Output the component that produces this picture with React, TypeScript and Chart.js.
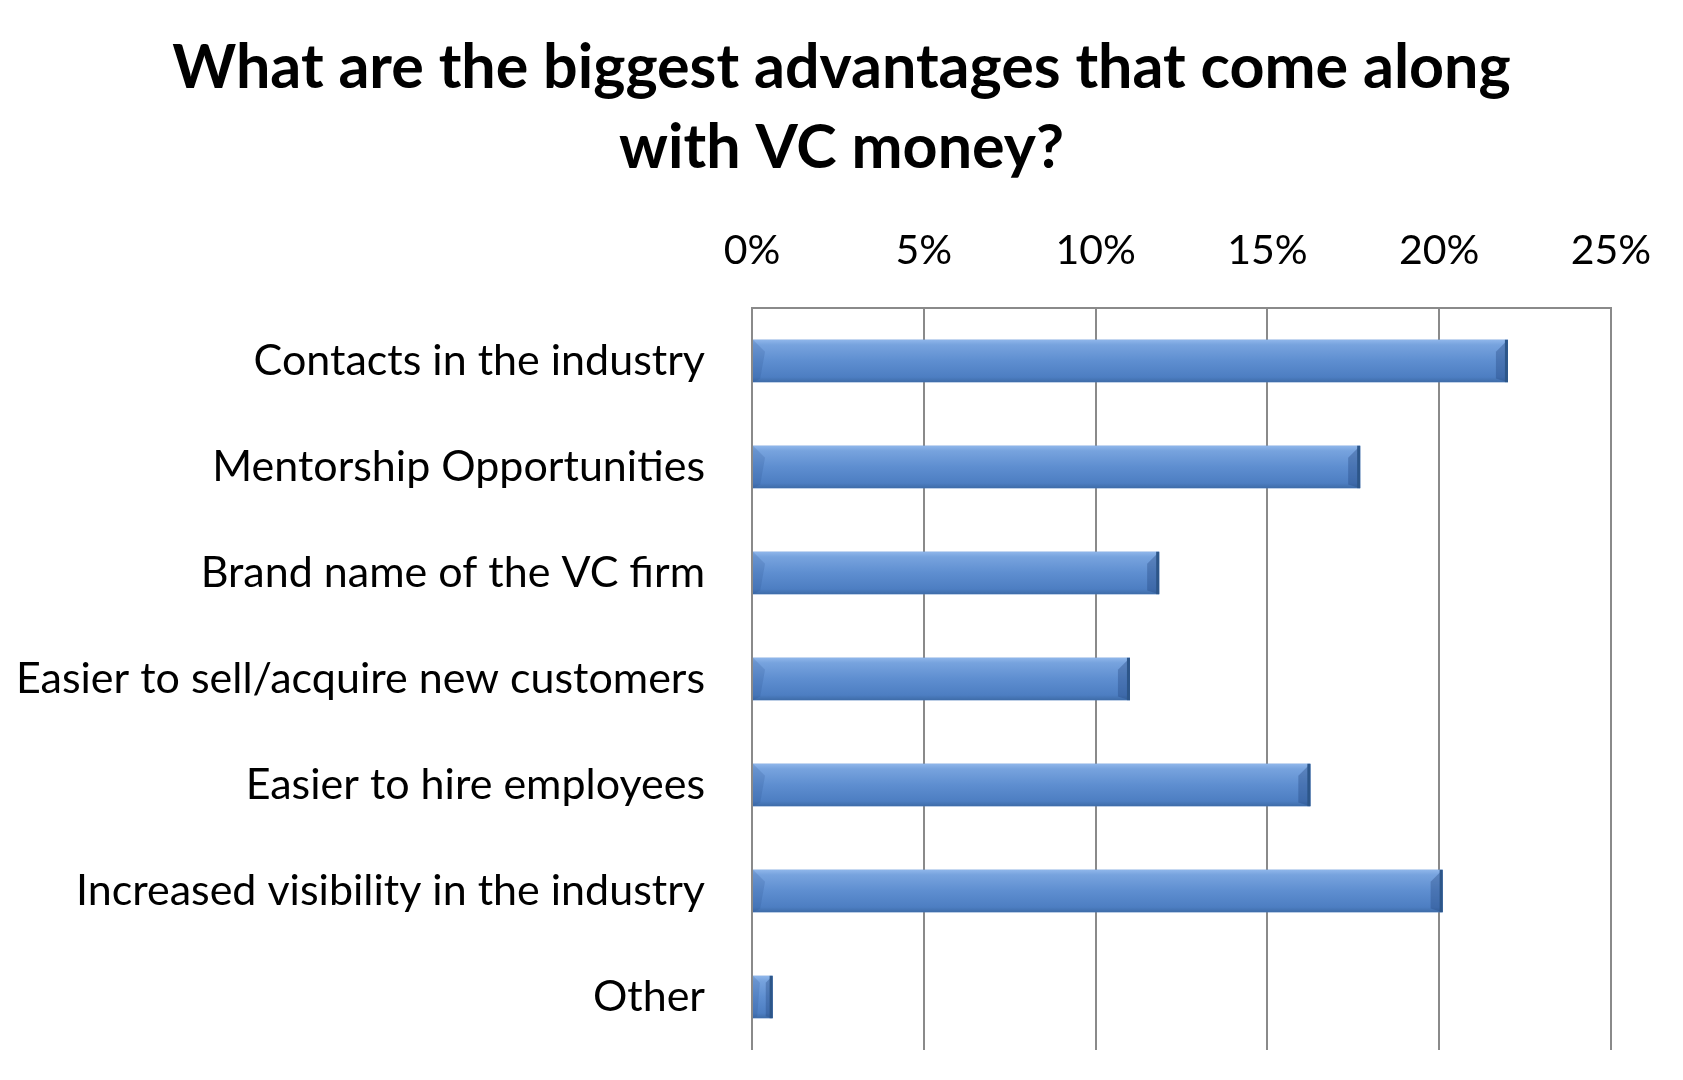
import React, { useEffect, useRef } from "react";
import { Chart, registerables } from "chart.js";

Chart.register(...registerables);

const titleLines = ["What are the biggest advantages that come along", "with VC money?"];
const categories = [
  "Contacts in the industry",
  "Mentorship Opportunities",
  "Brand name of the VC firm",
  "Easier to sell/acquire new customers",
  "Easier to hire employees",
  "Increased visibility in the industry",
  "Other",
];
const values = [22.0, 17.7, 11.85, 11.0, 16.25, 20.1, 0.6];
const xTickMin = 0;
const xTickMax = 25;
const xTickStep = 5;

const bevelPlugin = {
  id: "bevelBars",
  afterDatasetsDraw(chart: any) {
    const ctx = chart.ctx;
    const meta = chart.getDatasetMeta(0);
    meta.data.forEach((bar: any) => {
      const { x, y, base, height } = bar.getProps(["x", "y", "base", "height"], true);
      const left = Math.min(base, x);
      const right = Math.max(base, x);
      const top = y - height / 2;
      const bottom = y + height / 2;
      const w = right - left;
      ctx.save();
      const g = ctx.createLinearGradient(0, top, 0, bottom);
      g.addColorStop(0, "#8fb6ea");
      g.addColorStop(0.12, "#77a3de");
      g.addColorStop(0.5, "#5e8ed0");
      g.addColorStop(0.88, "#4d7ec2");
      g.addColorStop(1, "#3e6ca8");
      ctx.fillStyle = g;
      ctx.fillRect(left, top, w, height);
      const b = Math.min(12, w * 0.35);
      ctx.fillStyle = "rgba(35,70,125,0.35)";
      ctx.beginPath();
      ctx.moveTo(right - b, top + b);
      ctx.lineTo(right, top);
      ctx.lineTo(right, bottom);
      ctx.lineTo(right - b, bottom - b * 0.3);
      ctx.closePath();
      ctx.fill();
      ctx.fillStyle = "#2d5689";
      ctx.fillRect(right - 3, top, 3, height);
      ctx.fillStyle = "rgba(40,80,140,0.18)";
      ctx.beginPath();
      ctx.moveTo(left, top);
      ctx.lineTo(left + b, top + b);
      ctx.lineTo(left + b * 0.6, bottom - b * 0.3);
      ctx.lineTo(left, bottom);
      ctx.closePath();
      ctx.fill();
      ctx.restore();
    });
  },
};

export default function App() {
  const ref = useRef<HTMLCanvasElement | null>(null);
  useEffect(() => {
    document.body.style.margin = "0";
    const canvas = ref.current;
    if (!canvas) return;
    const chart = new Chart(canvas, {
      type: "bar",
      data: {
        labels: categories,
        datasets: [
          {
            data: values,
            backgroundColor: "#5b8ccf",
            borderWidth: 0,
            categoryPercentage: 1,
            barPercentage: 0.4,
          },
        ],
      },
      options: {
        indexAxis: "y",
        responsive: false,
        animation: false,
        layout: { padding: { left: 0, right: 0, top: 0, bottom: 30 } },
        plugins: {
          legend: { display: false },
          tooltip: { enabled: false },
          title: {
            display: true,
            text: titleLines,
            color: "#000",
            font: { family: "Lato", size: 61, weight: "bold", lineHeight: 1.311 },
            padding: { top: 28, bottom: 0 },
          },
        },
        scales: {
          x: {
            position: "top",
            min: xTickMin,
            max: xTickMax,
            ticks: {
              stepSize: xTickStep,
              color: "#000",
              font: { family: "Lato", size: 41 },
              padding: 33,
              callback: (v: any) => v + "%",
            },
            grid: { color: "#8a8a8a", lineWidth: 2, drawTicks: false },
            border: { display: true, color: "#8a8a8a", width: 2 },
            afterFit: (scale: any) => {
              scale.height = 120;
              scale.paddingLeft = 0;
              scale.paddingRight = 72;
            },
          },
          y: {
            ticks: {
              color: "#000",
              font: { family: "Lato", size: 43 },
              padding: 47,
            },
            grid: { display: false, drawTicks: false },
            border: { display: false },
            afterFit: (scale: any) => {
              scale.width = 752;
              scale.paddingTop = 0;
              scale.paddingBottom = 0;
            },
          },
        },
      },
      plugins: [bevelPlugin],
    });
    return () => chart.destroy();
  }, []);
  return (
    <div style={{ position: "absolute", left: 0, top: 0, width: 1683, height: 1080, background: "#fff" }}>
      <canvas ref={ref} width={1683} height={1080} />
    </div>
  );
}
